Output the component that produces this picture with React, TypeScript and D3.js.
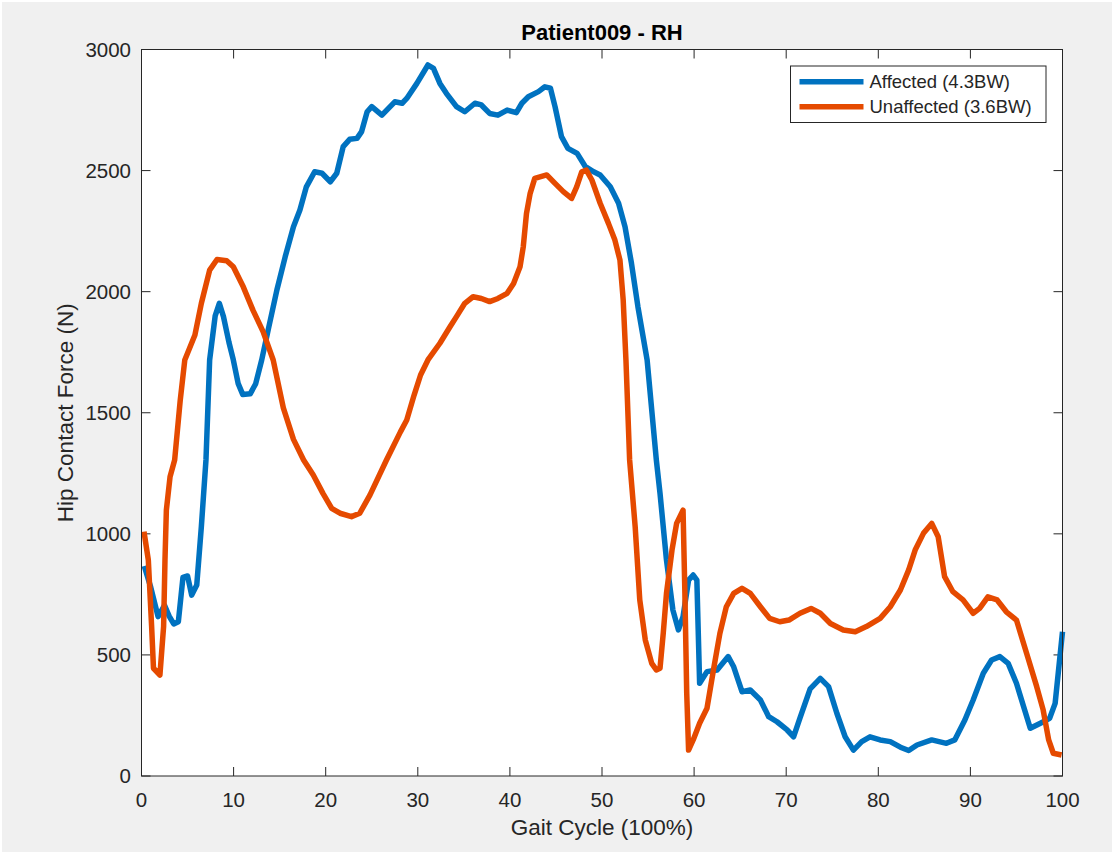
import React from "react";
import * as d3 from "d3";

// Gait cycle (%) and hip contact force (N) for each limb
const affectedX = [0.3, 1.0, 1.8, 2.5, 3.0, 3.5, 4.0, 4.5, 5.0, 5.45, 6.0, 6.5, 7.0, 7.4, 8.0, 8.45, 8.9, 9.5, 9.97, 10.5, 11.0, 11.8, 12.4, 13.05, 13.8, 14.7, 15.6, 16.5, 17.2, 17.9, 18.8, 19.6, 20.5, 21.2, 21.9, 22.6, 23.4, 23.9, 24.5, 25.0, 26.1, 27.5, 28.3, 28.8, 29.9, 31.1, 31.7, 32.4, 33.1, 34.2, 35.1, 36.2, 36.9, 37.8, 38.7, 39.7, 40.7, 41.3, 42.0, 43.1, 43.8, 44.4, 44.9, 45.6, 46.3, 47.3, 48.2, 49.1, 49.8, 50.9, 51.8, 52.5, 53.2, 53.9, 54.9, 55.9, 56.3, 57.0, 57.7, 58.3, 58.8, 59.4, 59.9, 60.3, 60.6, 61.4, 62.5, 63.7, 64.3, 65.2, 66.1, 67.2, 68.1, 69.0, 70.1, 70.8, 71.5, 72.6, 73.7, 74.6, 75.5, 76.4, 77.3, 78.2, 79.1, 80.2, 81.3, 82.4, 83.3, 84.2, 85.8, 87.4, 88.3, 89.4, 90.3, 91.4, 92.3, 93.2, 94.1, 95.0, 96.5, 97.6, 98.6, 99.2, 100];
const affectedForce = [867, 780, 658, 705, 660, 628, 637, 820, 826, 747, 789, 1030, 1305, 1718, 1900, 1952, 1897, 1790, 1718, 1620, 1575, 1578, 1620, 1718, 1850, 2007, 2144, 2268, 2337, 2433, 2495, 2489, 2454, 2489, 2599, 2629, 2633, 2661, 2743, 2764, 2729, 2784, 2778, 2798, 2860, 2936, 2922, 2860, 2819, 2764, 2743, 2778, 2771, 2736, 2729, 2750, 2739, 2778, 2805, 2826, 2846, 2840, 2764, 2640, 2592, 2571, 2516, 2495, 2482, 2433, 2365, 2268, 2117, 1938, 1718, 1305, 1167, 892, 685, 603, 658, 809, 830, 809, 383, 431, 438, 493, 451, 348, 355, 314, 245, 224, 190, 162, 240, 360, 403, 369, 259, 162, 107, 142, 162, 149, 142, 119, 105, 128, 149, 135, 149, 231, 314, 424, 479, 493, 465, 383, 197, 218, 238, 300, 596];

const unaffectedX = [0.27, 0.74, 1.1, 1.3, 2.0, 2.4, 2.55, 2.7, 3.1, 3.6, 4.2, 4.7, 5.8, 6.5, 7.4, 8.2, 9.25, 9.97, 11.05, 12.1, 13.2, 14.3, 15.4, 16.5, 17.6, 18.65, 19.7, 20.65, 21.55, 22.8, 23.7, 24.8, 26.6, 28.1, 28.8, 29.6, 30.3, 31.1, 32.4, 33.5, 34.2, 35.1, 36.0, 36.9, 37.8, 38.7, 39.7, 40.4, 41.1, 41.45, 41.8, 42.2, 42.7, 44.0, 44.9, 45.8, 46.7, 47.25, 47.8, 48.3, 48.9, 49.8, 50.7, 51.4, 51.95, 52.3, 52.6, 53.0, 53.6, 54.1, 54.7, 55.4, 55.9, 56.3, 56.65, 57.0, 57.6, 58.1, 58.8, 59.0, 59.2, 59.4, 59.9, 60.6, 61.4, 62.1, 62.8, 63.5, 64.3, 65.2, 66.1, 67.2, 68.2, 69.3, 70.3, 71.5, 72.7, 73.7, 74.8, 76.2, 77.5, 78.7, 80.2, 81.3, 82.4, 83.3, 84.0, 84.9, 85.8, 86.5, 87.2, 88.1, 89.2, 90.3, 91.0, 91.9, 92.9, 93.9, 95.0, 96.1, 97.2, 97.9, 98.5, 99.0, 99.9];
const unaffectedForce = [1009, 892, 617, 445, 417, 617, 892, 1098, 1236, 1305, 1550, 1718, 1821, 1952, 2089, 2133, 2128, 2103, 2020, 1924, 1835, 1718, 1520, 1390, 1305, 1243, 1167, 1105, 1085, 1071, 1085, 1160, 1305, 1420, 1470, 1573, 1656, 1718, 1787, 1855, 1897, 1952, 1979, 1972, 1959, 1972, 1993, 2034, 2103, 2185, 2323, 2406, 2468, 2482, 2447, 2413, 2385, 2433, 2495, 2502, 2461, 2365, 2282, 2213, 2130, 1966, 1718, 1305, 1030, 727, 562, 465, 438, 445, 589, 754, 933, 1043, 1098, 754, 341, 107, 149, 218, 280, 438, 589, 699, 754, 775, 754, 699, 651, 637, 644, 672, 692, 672, 630, 603, 596, 617, 651, 699, 768, 851, 933, 1002, 1043, 988, 823, 761, 727, 672, 692, 740, 727, 678, 644, 507, 369, 273, 149, 94, 87];

const xTicks = [0, 10, 20, 30, 40, 50, 60, 70, 80, 90, 100];
const yTicks = [0, 500, 1000, 1500, 2000, 2500, 3000];

const seriesNames = ["Affected (4.3BW)", "Unaffected (3.6BW)"];
const seriesColors = ["#0072C0", "#E54A00"];

const W = 1114;
const H = 854;
const left = 141.5;
const right = 1062.5;
const top = 49.5;
const bottom = 776;
const axisColor = "#262626";
const font = "'Liberation Sans', Arial, Helvetica, sans-serif";

export default function App() {
  const x = d3.scaleLinear().domain([0, 100]).range([left, right]);
  const y = d3.scaleLinear().domain([0, 3000]).range([bottom, top]);

  const line = d3
    .line<[number, number]>()
    .x((d) => x(d[0]))
    .y((d) => y(d[1]));

  const affected: [number, number][] = affectedX.map((v, i) => [v, affectedForce[i]]);
  const unaffected: [number, number][] = unaffectedX.map((v, i) => [v, unaffectedForce[i]]);
  const series = [affected, unaffected];

  const tickLen = 9;
  const legend = { x0: 790.5, y0: 66, x1: 1046, y1: 122.5 };
  const legendRows = [81.7, 106.7];

  return (
    <svg
      width={W}
      height={H}
      style={{ position: "absolute", left: 0, top: 0, display: "block" }}
      fontFamily={font}
    >
      <rect x={0} y={0} width={W} height={H} fill="#ffffff" />
      <rect x={2} y={2} width={W - 4} height={H - 4} fill="#f0f0f0" />
      <rect x={left} y={top} width={right - left} height={bottom - top} fill="#ffffff" />

      {/* tick marks on all four sides, pointing inward */}
      {xTicks.map((t) => (
        <g key={"xt" + t} stroke={axisColor} strokeWidth={1}>
          <line x1={x(t)} x2={x(t)} y1={bottom} y2={bottom - tickLen} />
          <line x1={x(t)} x2={x(t)} y1={top} y2={top + tickLen} />
        </g>
      ))}
      {yTicks.map((t) => (
        <g key={"yt" + t} stroke={axisColor} strokeWidth={1}>
          <line x1={left} x2={left + tickLen} y1={y(t)} y2={y(t)} />
          <line x1={right} x2={right - tickLen} y1={y(t)} y2={y(t)} />
        </g>
      ))}

      {/* force curves */}
      <g>
        {series.map((s, i) => (
          <path
            key={seriesNames[i]}
            d={line(s) || ""}
            fill="none"
            stroke={seriesColors[i]}
            strokeWidth={5.5}
            strokeLinejoin="round"
            strokeLinecap="butt"
          />
        ))}
      </g>

      {/* axes box */}
      <rect
        x={left}
        y={top}
        width={right - left}
        height={bottom - top}
        fill="none"
        stroke={axisColor}
        strokeWidth={1}
      />

      {/* tick labels */}
      {xTicks.map((t) => (
        <text
          key={"xl" + t}
          x={x(t)}
          y={807}
          textAnchor="middle"
          fontSize={20.5}
          fill={axisColor}
        >
          {t}
        </text>
      ))}
      {yTicks.map((t) => (
        <text
          key={"yl" + t}
          x={131}
          y={y(t)}
          dy="0.36em"
          textAnchor="end"
          fontSize={20.5}
          fill={axisColor}
        >
          {t}
        </text>
      ))}

      {/* axis titles */}
      <text x={(left + right) / 2} y={835} textAnchor="middle" fontSize={22.5} fill={axisColor}>
        Gait Cycle (100%)
      </text>
      <text
        transform={`translate(73,${(top + bottom) / 2}) rotate(-90)`}
        textAnchor="middle"
        fontSize={22.5}
        fill={axisColor}
      >
        Hip Contact Force (N)
      </text>
      <text
        x={(left + right) / 2}
        y={40}
        textAnchor="middle"
        fontSize={22}
        fontWeight="bold"
        fill="#000000"
      >
        Patient009 - RH
      </text>

      {/* legend */}
      <rect
        x={legend.x0}
        y={legend.y0}
        width={legend.x1 - legend.x0}
        height={legend.y1 - legend.y0}
        fill="#ffffff"
        stroke={axisColor}
        strokeWidth={1}
      />
      {seriesNames.map((name, i) => (
        <g key={"lg" + name}>
          <line
            x1={799.5}
            x2={863.5}
            y1={legendRows[i]}
            y2={legendRows[i]}
            stroke={seriesColors[i]}
            strokeWidth={5.5}
          />
          <text x={869.5} y={legendRows[i]} dy="0.36em" fontSize={18.5} fill={axisColor}>
            {name}
          </text>
        </g>
      ))}
    </svg>
  );
}
